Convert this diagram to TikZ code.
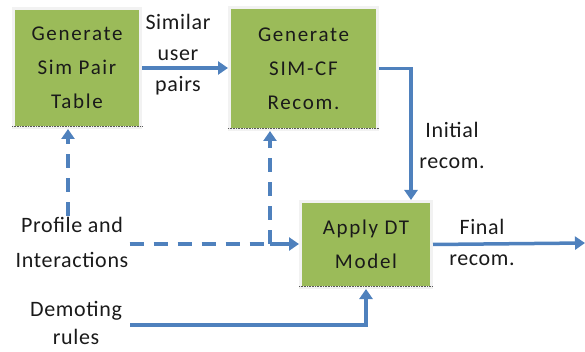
\documentclass[tikz,border=0pt]{standalone}
\usepackage{fontspec}
\setmainfont[LetterSpace=3]{Carlito}
\newfontfamily\boxfont[LetterSpace=8]{Carlito}
\usetikzlibrary{arrows.meta,calc}
\definecolor{boxgreen}{HTML}{9BBB59}
\definecolor{arrblue}{HTML}{4F81BD}
\definecolor{txt}{HTML}{1A1A1A}
\tikzset{
  procbox/.style={fill=boxgreen, draw=gray!10, line width=3pt, align=center, text=txt,
    inner sep=0pt, font=\boxfont\fontsize{21}{34}\selectfont},
  lbl/.style={align=center, text=txt, inner sep=1pt, font=\fontsize{22}{31}\selectfont},
  conn/.style={draw=arrblue, line width=3.5pt, -{Triangle[width=13pt,length=10pt]}},
  plainconn/.style={draw=arrblue, line width=3.5pt},
  dashconn/.style={dash pattern=on 14pt off 10pt},
}
\begin{document}
\begin{tikzpicture}[x=1pt,y=-1pt]
\useasboundingbox (0,0) rectangle (585,352);
% boxes
\node[procbox, minimum width=127pt, minimum height=119pt] (box1) at (77,68) {Generate\\Sim Pair\\Table};
\node[procbox, minimum width=148pt, minimum height=122pt] (box2) at (303.5,68.5) {Generate\\SIM-CF\\Recom.};
\node[procbox, minimum width=131pt, minimum height=86pt] (box3) at (366,244.5) {Apply DT\\Model};
% dotted bottom edges
\draw[gray!70!black, line width=0.8pt, dash pattern=on 0.8pt off 0.8pt]
  ([yshift=3pt]box1.south west) -- ([yshift=3pt]box1.south east);
\draw[gray!70!black, line width=0.8pt, dash pattern=on 0.8pt off 0.8pt]
  ([yshift=3pt]box2.south west) -- ([yshift=3pt]box2.south east);
\draw[gray!70!black, line width=0.8pt, dash pattern=on 0.8pt off 0.8pt]
  ([yshift=3pt]box3.south west) -- ([yshift=3pt]box3.south east);
% labels
\node[lbl] (simlbl) at (178,55) {Similar\\user\\pairs};
\node[lbl] (initlbl) at (452,145) {Initial\\recom.};
\node[lbl, font=\fontsize{22}{35}\selectfont] (prof) at (72,242) {Profile and\\Interactions};
\node[lbl, font=\fontsize{22}{28}\selectfont] (dem) at (76,323) {Demoting\\rules};
\node[lbl] (finlbl) at (482,242) {Final\\recom.};
\coordinate (fin) at (585,243);
\coordinate (j) at (270,244);
\coordinate (dl) at (130,325);
% connectors
\draw[conn] (box1.east) -- (box1.east -| box2.west);
\draw[conn] (box2.east) -| ([xshift=45pt]box3.north);
\draw[conn] (box3.east) -- (fin);
\draw[conn] (dl) -| (box3.south);
\draw[conn, dashconn] (prof.north -| box1.south) ++(-9pt,0) coordinate (pu) -- (pu |- box1.south);
\draw[plainconn, dashconn] (prof.east |- j) -- (j);
\draw[conn, dashconn] (j) -- (j |- box2.south);
\draw[conn] (j) -- (j -| box3.west);
\end{tikzpicture}
\end{document}
